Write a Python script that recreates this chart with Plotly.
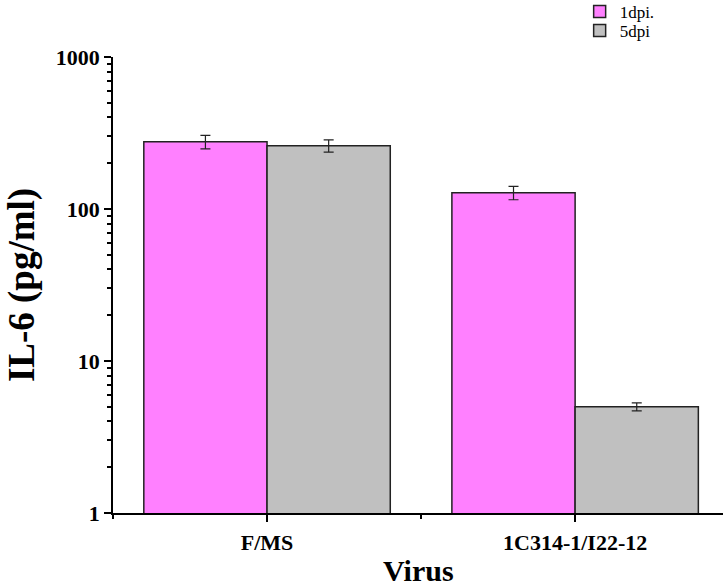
import plotly.graph_objects as go

categories = ["F/MS", "1C314-1/I22-12"]
x_pos = [0, 1]
dpi1_values = [277, 128]
dpi1_errors = [28, 13]
dpi5_values = [261, 5.0]
dpi5_errors = [24, 0.3]
series_names = ["1dpi.", "5dpi"]
y_tick_vals = [1, 10, 100, 1000]
y_tick_text = ["1", "10", "100", "1000"]

FONT = "Liberation Serif, Times New Roman, serif"

fig = go.Figure()
fig.add_trace(go.Bar(
    x=x_pos, y=dpi1_values, name=series_names[0], legend="legend",
    marker=dict(color="#FF80FF", line=dict(color="#222222", width=1.5)),
    error_y=dict(type="data", array=dpi1_errors, color="#222222", thickness=1.2, width=5),
))
fig.add_trace(go.Bar(
    x=x_pos, y=dpi5_values, name=series_names[1], legend="legend2",
    marker=dict(color="#C0C0C0", line=dict(color="#222222", width=1.5)),
    error_y=dict(type="data", array=dpi5_errors, color="#222222", thickness=1.2, width=5),
))

leg_common = dict(
    x=0.765, xanchor="left", yanchor="middle",
    font=dict(family=FONT, size=17, color="black"),
    bgcolor="rgba(0,0,0,0)", itemwidth=30,
)

fig.update_layout(
    width=723, height=588,
    margin=dict(l=113, r=0, t=57, b=75, autoexpand=False),
    paper_bgcolor="white", plot_bgcolor="white",
    barmode="group", bargap=0.2, bargroupgap=0,
    font=dict(family=FONT, color="black"),
    legend=dict(y=1.099, **leg_common),
    legend2=dict(y=1.057, **leg_common),
    showlegend=True,
    annotations=[dict(
        text="<b>Virus</b>", xref="paper", yref="paper", x=0.5, y=-0.125,
        xanchor="center", yanchor="middle", showarrow=False,
        font=dict(family=FONT, size=30, color="black"),
    )],
)

fig.update_xaxes(
    range=[-0.5, 1.48], automargin=False,
    tickmode="array", tickvals=x_pos, ticktext=["<b>%s</b>" % c for c in categories],
    ticks="outside", ticklen=7, tickwidth=1.5, tickcolor="black",
    ticklabelstandoff=2,
    minor=dict(ticks="outside", dtick=0.5, tick0=0, ticklen=4, tickwidth=1.5, tickcolor="black", showgrid=False),
    showline=True, linecolor="black", linewidth=1.5,
    showgrid=False, zeroline=False,
    tickfont=dict(family=FONT, size=22, color="black"),
)

fig.update_yaxes(
    type="log", range=[0, 3], automargin=False,
    tickmode="array", tickvals=y_tick_vals, ticktext=["<b>%s</b>" % t for t in y_tick_text],
    ticks="outside", ticklen=7, tickwidth=1.5, tickcolor="black",
    minor=dict(ticks="outside", ticklen=4, tickwidth=1.5, tickcolor="black", showgrid=False,
               tickvals=[m * 10 ** e for e in range(3) for m in range(2, 10)]),
    showline=True, linecolor="black", linewidth=1.5,
    showgrid=False, zeroline=False,
    tickfont=dict(family=FONT, size=22, color="black"),
    title=dict(text="<b>IL-6 (pg/ml)</b>", font=dict(family=FONT, size=37, color="black"), standoff=10),
)

fig.write_html("out.html")
